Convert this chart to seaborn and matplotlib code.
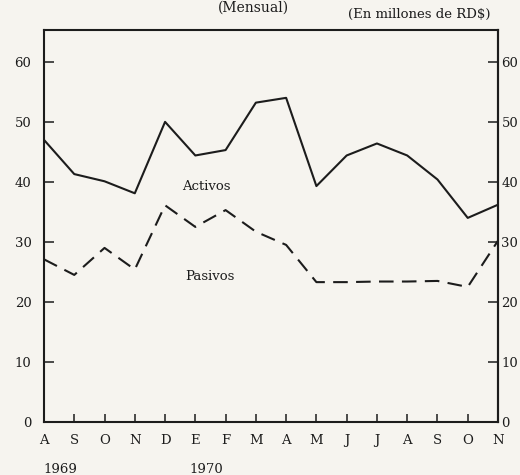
import pandas as pd
import matplotlib.pyplot as plt
import seaborn as sns

# Monthly series, Aug 1969 - Nov 1970 (millones de RD$)
meses = ['A', 'S', 'O', 'N', 'D', 'E', 'F', 'M', 'A', 'M', 'J', 'J', 'A', 'S', 'O', 'N']
activos = [47.0, 41.3, 40.1, 38.1, 50.0, 44.4, 45.3, 53.2, 54.0, 39.3, 44.4, 46.4, 44.4, 40.4, 34.0, 36.2]
pasivos = [27.1, 24.5, 29.0, 25.4, 36.1, 32.5, 35.3, 31.7, 29.5, 23.3, 23.3, 23.4, 23.4, 23.5, 22.5, 30.2]
y_ticks = [0, 10, 20, 30, 40, 50, 60]

df = pd.DataFrame({
    'mes': list(range(len(meses))) * 2,
    'valor': activos + pasivos,
    'serie': ['Activos'] * len(meses) + ['Pasivos'] * len(meses),
})

sns.set_style('ticks')
plt.rcParams['font.family'] = ['DejaVu Serif']
ink = '#1c1c1c'
bg = '#f6f4ef'
fs = 9.5

fig = plt.figure(figsize=(5.2, 4.75), dpi=100, facecolor=bg)
ax = fig.add_axes([0.0846, 0.1116, 0.8731, 0.8252])
ax.set_facecolor(bg)

sns.lineplot(data=df, x='mes', y='valor', style='serie', color=ink, linewidth=1.5,
             dashes={'Activos': '', 'Pasivos': (7, 4)}, legend=False, ax=ax)

ax.set_xlim(0, 15)
ax.set_ylim(0, 65.3)
ax.set_xlabel('')
ax.set_ylabel('')

ax.set_xticks(range(len(meses)))
ax.set_xticklabels(meses)
ax.set_yticks(y_ticks)
ax.set_yticklabels([str(v) for v in y_ticks])
ax.tick_params(axis='x', direction='in', length=6, width=1.1, pad=9, labelsize=fs, colors=ink)
ax.tick_params(axis='y', direction='in', length=7, width=1.1, pad=9, labelsize=fs, colors=ink,
               right=False, labelright=False)

# right-hand scale, same values, labels tight to the frame
sec = ax.secondary_yaxis('right')
sec.set_yticks(y_ticks)
sec.tick_params(axis='y', direction='in', length=7, width=1.1, pad=2.5, labelsize=fs, colors=ink)
sec.spines['right'].set_linewidth(1.5)
sec.spines['right'].set_color(ink)

for s in ax.spines.values():
    s.set_visible(True)
    s.set_linewidth(1.5)
    s.set_color(ink)

ax.text(5.35, 39.3, 'Activos', ha='center', va='center', fontsize=fs, color=ink)
ax.text(5.48, 24.3, 'Pasivos', ha='center', va='center', fontsize=fs, color=ink)

trans = ax.get_xaxis_transform()
ax.text(0.53, -0.12, '1969', transform=trans, ha='center', va='center', fontsize=fs, color=ink)
ax.text(5.35, -0.12, '1970', transform=trans, ha='center', va='center', fontsize=fs, color=ink)

fig.text(419 / 520, 1 - 14 / 475, '(En millones de RD$)', ha='center', va='center',
         fontsize=fs, color=ink)
fig.text(253 / 520, 0.998, '(Mensual)', ha='center', va='top', fontsize=10, color=ink)

fig.savefig('out.png', dpi=100, facecolor=bg)
